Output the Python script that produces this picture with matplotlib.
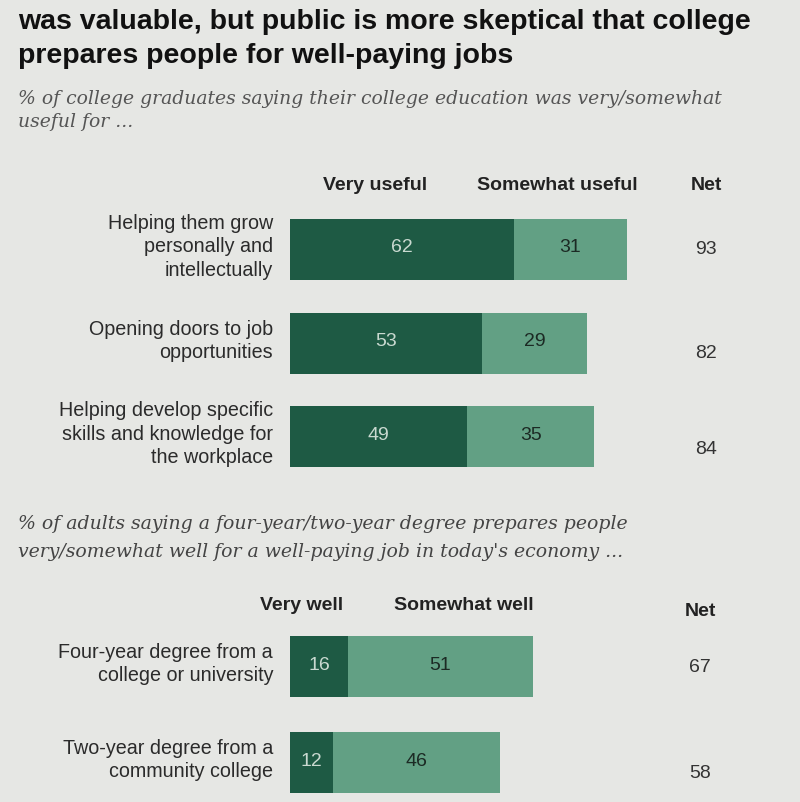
import numpy as np
import matplotlib.pyplot as plt

BG = '#e6e7e4'
DARK = '#1e5a44'
LIGHT = '#62a084'

# data
top_labels = ['Helping them grow\npersonally and\nintellectually',
              'Opening doors to job\nopportunities',
              'Helping develop specific\nskills and knowledge for\nthe workplace']
top_very = [62, 53, 49]
top_some = [31, 29, 35]
top_net = [93, 82, 84]

bot_labels = ['Four-year degree from a\ncollege or university',
              'Two-year degree from a\ncommunity college']
bot_very = [16, 12]
bot_some = [51, 46]
bot_net = [67, 58]

fig = plt.figure(figsize=(8, 8.02), dpi=100, facecolor=BG)
ax = fig.add_axes([0, 0, 1, 1])
ax.set_facecolor(BG)
# x in percent units, y in pixels from the top
px_per_unit = 3.62
x0 = 290
ax.set_xlim(-x0 / px_per_unit, (800 - x0) / px_per_unit)
ax.set_ylim(802, 0)
ax.axis('off')

sans = ['Liberation Sans', 'DejaVu Sans']
narrow = ['Liberation Sans Narrow', 'Liberation Sans', 'DejaVu Sans']
serif = ['DejaVu Serif']
lab_x = -17 / px_per_unit
left_x = -272 / px_per_unit
net_top_x = 416 / px_per_unit
net_bot_x = 410 / px_per_unit


def draw_group(ys, very, some, net, labels, net_x, net_dy, bh=61):
    very = np.array(very)
    some = np.array(some)
    ax.barh(ys, very, height=bh, color=DARK, edgecolor='none')
    ax.barh(ys, some, left=very, height=bh, color=LIGHT, edgecolor='none')
    for y, v, s, n, lab, dy in zip(ys, very, some, net, labels, net_dy):
        ax.text(v / 2, y - 1, str(v), ha='center', va='center', color='#c9d9d0',
                fontsize=14, family=sans)
        ax.text(v + s / 2, y - 1, str(s), ha='center', va='center', color='#1c2a24',
                fontsize=14, family=sans)
        ax.text(net_x, y + dy, str(n), ha='center', va='center', color='#333333',
                fontsize=14, family=sans)
        ax.text(lab_x, y - 2, lab, ha='right', va='center', color='#2b2b2b',
                fontsize=14.2, family=sans, linespacing=1.3)


# title and subtitles
ax.text(left_x, 22, 'was valuable, but public is more skeptical that college',
        ha='left', va='center', fontsize=20.5, fontweight='bold', family=narrow,
        color='#111111')
ax.text(left_x, 56, 'prepares people for well-paying jobs',
        ha='left', va='center', fontsize=20.5, fontweight='bold', family=narrow,
        color='#111111')
ax.text(left_x, 99, '% of college graduates saying their college education was very/somewhat',
        ha='left', va='center', fontsize=13.5, style='italic', family=serif, color='#555555')
ax.text(left_x, 122, 'useful for ...',
        ha='left', va='center', fontsize=13.5, style='italic', family=serif, color='#555555')

# top headers
hdr = dict(ha='center', va='center', fontsize=14, fontweight='bold', family=sans,
           color='#222222')
ax.text(85 / px_per_unit, 186, 'Very useful', **hdr)
ax.text(267 / px_per_unit, 186, 'Somewhat useful', **hdr)
ax.text(net_top_x, 186, 'Net', **hdr)

draw_group([249, 343, 436], top_very, top_some, top_net, top_labels, net_top_x,
           [0, 10, 14])

ax.text(left_x, 524, '% of adults saying a four-year/two-year degree prepares people',
        ha='left', va='center', fontsize=13.6, style='italic', family=serif, color='#444444')
ax.text(left_x, 552, "very/somewhat well for a well-paying job in today's economy ...",
        ha='left', va='center', fontsize=13.6, style='italic', family=serif, color='#444444')

ax.text(12 / px_per_unit, 606, 'Very well', **hdr)
ax.text(174 / px_per_unit, 606, 'Somewhat well', **hdr)
ax.text(net_bot_x, 612, 'Net', **hdr)

draw_group([666, 762], bot_very, bot_some, bot_net, bot_labels, net_bot_x, [2, 11])

fig.savefig('out.png', dpi=100, facecolor=BG)
